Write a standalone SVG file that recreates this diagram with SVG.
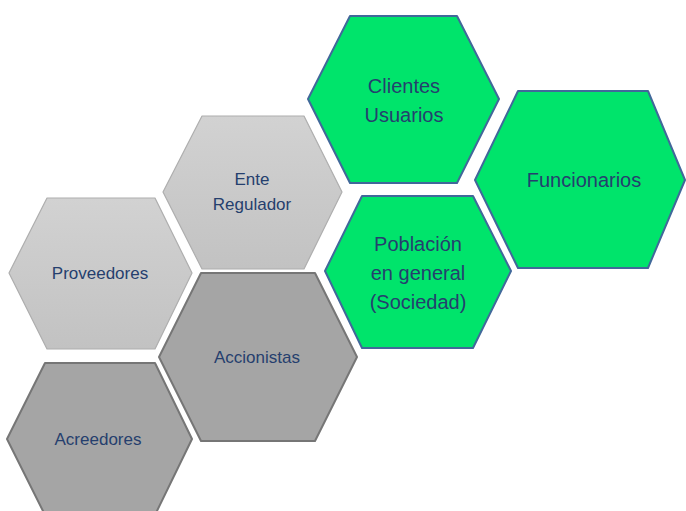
<svg xmlns="http://www.w3.org/2000/svg" width="686" height="511" viewBox="0 0 686 511">
  <defs>
    <linearGradient id="lightGray" x1="0" y1="0" x2="0" y2="1">
      <stop offset="0" stop-color="#D2D2D2"/>
      <stop offset="1" stop-color="#C2C2C2"/>
    </linearGradient>
  </defs>
  <style>
    .green { fill: #00E46B; stroke: #41689A; stroke-width: 2; stroke-linejoin: round; }
    .light { fill: url(#lightGray); stroke: #AEAEAE; stroke-width: 1.2; stroke-linejoin: round; }
    .dark { fill: #A5A5A5; stroke: #767676; stroke-width: 2; stroke-linejoin: round; }
    text { font-family: "Liberation Sans", Arial, sans-serif; fill: #253F6E; text-anchor: middle; }
    .big { font-size: 20px; }
    .small { font-size: 17px; }
  </style>

  <!-- Green stakeholder hexagons -->
  <g id="clientes-usuarios">
    <polygon class="green" points="350,16 457,16 499,99 457,183 350,183 308,99"/>
    <text class="big" x="404" y="93">Clientes</text>
    <text class="big" x="404" y="122">Usuarios</text>
  </g>
  <g id="funcionarios">
    <polygon class="green" points="518,91 648,91 685,180 648,268 518,268 475,180"/>
    <text class="big" x="584" y="187">Funcionarios</text>
  </g>
  <g id="poblacion">
    <polygon class="green" points="362,196 473,196 511,271 473,348 362,348 325,271"/>
    <text class="big" x="418" y="251">Población</text>
    <text class="big" x="418" y="280">en general</text>
    <text class="big" x="418" y="309">(Sociedad)</text>
  </g>

  <!-- Light gray hexagons -->
  <g id="ente-regulador">
    <polygon class="light" points="202,116 304,116 342,192 304,269 202,269 163,192"/>
    <text class="small" x="252" y="185">Ente</text>
    <text class="small" x="252" y="210">Regulador</text>
  </g>
  <g id="proveedores">
    <polygon class="light" points="47,198 155,198 192,273 155,349 47,349 9,273"/>
    <text class="small" x="100" y="279">Proveedores</text>
  </g>

  <!-- Dark gray hexagons -->
  <g id="accionistas">
    <polygon class="dark" points="201,273 315,273 357,357 315,441 201,441 159,357"/>
    <text class="small" x="257" y="363">Accionistas</text>
  </g>
  <g id="acreedores">
    <polygon class="dark" points="45,363 155,363 192,439 155,515 45,515 7,439"/>
    <text class="small" x="98" y="445">Acreedores</text>
  </g>

  <g id="connectors"/>
</svg>
